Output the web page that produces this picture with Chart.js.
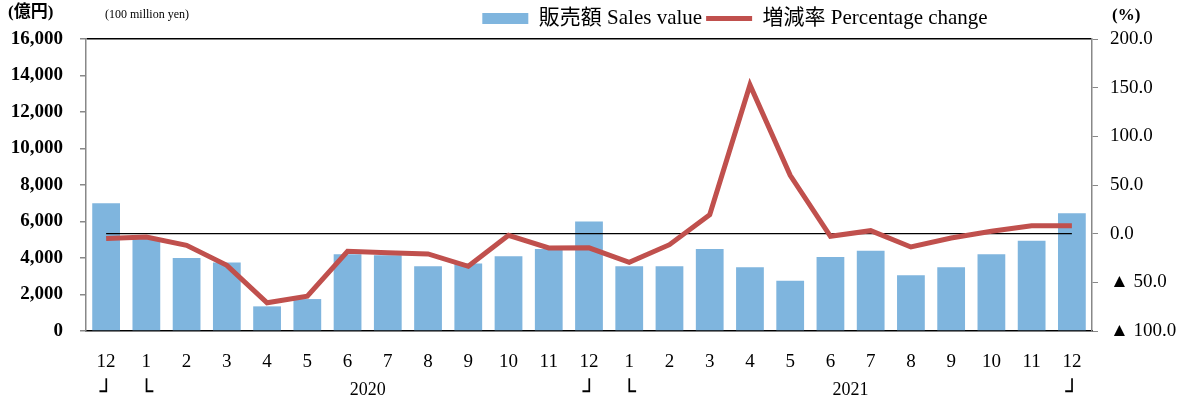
<!DOCTYPE html>
<html>
<head>
<meta charset="utf-8">
<script src="https://cdn.jsdelivr.net/npm/chart.js@4/dist/chart.umd.min.js"></script>
<style>
  html, body { margin: 0; padding: 0; background: #fff; }
  #wrap { width: 1186px; height: 403px; }
</style>
</head>
<body>
<div id="wrap"><canvas id="salesChart" width="1186" height="403"></canvas></div>
<script>

// ─────────────────────────────────────
// DATA
// ─────────────────────────────────────

const monthLabels = [
    "12", "1", "2", "3", "4", "5", "6", "7", "8", "9", "10", "11",
    "12", "1", "2", "3", "4", "5", "6", "7", "8", "9", "10", "11", "12"
];

// second row under the months: corner marks, years go between them
const cornerMarks = [
    "┘", "└", "", "", "", "", "", "", "", "", "", "",
    "┘", "└", "", "", "", "", "", "", "", "", "", "", "┘"
];
const yearLabels = ["2020", "2021"];

// 販売額 (100 million yen)
const salesValue = [
    7000, 5100, 4000, 3750, 1350, 1750, 4200, 4150, 3550, 3700, 4100, 4500,
    6000, 3550, 3550, 4500, 3500, 2750, 4050, 4400, 3050, 3500, 4200, 4950, 6450
];

// 増減率 (%)
const pctChange = [
    -5.0, -3.4, -12.0, -32.5, -71.0, -64.3, -18.1, -19.5, -20.8, -33.5, -1.7, -14.7,
    -14.5, -29.5, -11.3, 19.5, 152.8, 60.0, -2.7, 3.1, -13.7, -4.4, 2.4, 8.2, 8.2
];

const zeroLine = monthLabels.map(() => 0);

const leftTicks = { min: 0, max: 16000, step: 2000 };
const rightTicks = { min: -100, max: 200, step: 50 };

const serif = "'Liberation Serif', 'Noto Sans CJK JP', serif";


// ─────────────────────────────────────
// EXTRA TEXT (units, second x row)
// ─────────────────────────────────────

const extraText = {

    id: "extraText",

    afterLayout(chart) {
        // move the legend to the right like in the original
        chart.legend.left += 142;
        chart.legend.right += 142;
    },

    afterDraw(chart) {

        const ctx = chart.ctx;
        const x = chart.scales.x;

        ctx.save();
        ctx.fillStyle = "#000";
        ctx.textBaseline = "middle";

        ctx.font = "bold 17px " + serif;
        ctx.textAlign = "left";
        ctx.fillText("(億円)", 8, 13);

        ctx.font = "12px " + serif;
        ctx.fillText("(100 million yen)", 105, 15);

        ctx.font = "bold 17px " + serif;
        ctx.fillText("(%)", 1112, 16);

        // corner marks
        ctx.textAlign = "center";
        ctx.font = "22px 'DejaVu Sans'";
        cornerMarks.forEach((m, i) => {
            if (m) {
                ctx.fillText(m, x.getPixelForValue(i), 393);
            }
        });

        // years between a └ and the next ┘
        ctx.font = "18px " + serif;
        let yi = 0;
        cornerMarks.forEach((m, i) => {
            if (m === "└") {
                const end = cornerMarks.indexOf("┘", i);
                const mid = (i + end) / 2;
                ctx.fillText(yearLabels[yi], x.getPixelForValue(mid), 390);
                yi++;
            }
        });

        ctx.restore();
    }
};


// ─────────────────────────────────────
// CHART
// ─────────────────────────────────────

new Chart(document.getElementById("salesChart"), {

    type: "bar",

    data: {

        labels: monthLabels,

        datasets: [

            {
                type: "bar",
                label: "販売額 Sales value",
                data: salesValue,
                yAxisID: "y",
                backgroundColor: "#7fb5de",
                borderWidth: 0,
                categoryPercentage: 1,
                barPercentage: 0.69,
                pointStyle: "rect",
                order: 3
            },

            {
                type: "line",
                label: "増減率 Percentage change",
                data: pctChange,
                yAxisID: "y1",
                borderColor: "#c0504d",
                backgroundColor: "#c0504d",
                borderWidth: 5,
                pointRadius: 0,
                tension: 0,
                pointStyle: "line",
                order: 1
            },

            {
                type: "line",
                label: "zero",
                data: zeroLine,
                yAxisID: "y1",
                borderColor: "#000",
                borderWidth: 1.3,
                pointRadius: 0,
                order: 2
            }
        ]
    },

    options: {

        responsive: false,
        animation: false,

        layout: {
            padding: { top: 4, right: 0, bottom: 0, left: 0 }
        },

        plugins: {

            legend: {
                display: true,
                position: "top",
                labels: {
                    usePointStyle: true,
                    pointStyleWidth: 46,
                    boxHeight: 11,
                    padding: 4,
                    color: "#000",
                    font: { family: serif, size: 21 },
                    filter: item => item.text !== "zero",
                    sort: (a, b) => a.datasetIndex - b.datasetIndex
                }
            },

            tooltip: { enabled: false }
        },

        scales: {

            x: {
                grid: { display: false },
                border: { color: "#000", width: 1.5 },
                ticks: {
                    color: "#000",
                    padding: 12,
                    maxRotation: 0,
                    autoSkip: false,
                    font: { family: serif, size: 19 }
                },
                afterFit: scale => { scale.height = 72; }
            },

            y: {
                position: "left",
                min: leftTicks.min,
                max: leftTicks.max,
                grid: {
                    drawOnChartArea: true,
                    color: c => c.tick && c.tick.value === leftTicks.max ? "#000" : "rgba(0,0,0,0)",
                    lineWidth: 1.5,
                    tickColor: "#888",
                    tickLength: 6
                },
                border: { color: "#888", width: 1.5 },
                ticks: {
                    stepSize: leftTicks.step,
                    color: "#000",
                    padding: 17,
                    font: { family: serif, size: 19, weight: "bold" },
                    callback: v => v.toLocaleString("en-US")
                },
                afterFit: scale => { scale.width = 86; }
            },

            y1: {
                position: "right",
                min: rightTicks.min,
                max: rightTicks.max,
                grid: {
                    drawOnChartArea: false,
                    tickColor: "#888",
                    tickLength: 6
                },
                border: { color: "#888", width: 1.5 },
                ticks: {
                    stepSize: rightTicks.step,
                    color: "#000",
                    padding: 12,
                    font: { family: serif, size: 19 },
                    callback: v => v < 0 ? "▲ " + Math.abs(v).toFixed(1) : v.toFixed(1)
                },
                afterFit: scale => { scale.width = 94; }
            }
        }
    },

    plugins: [extraText]
});

</script>
</body>
</html>
